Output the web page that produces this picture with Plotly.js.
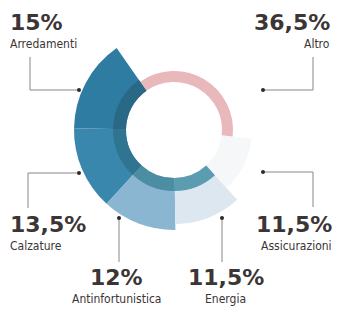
<!DOCTYPE html>
<html>
<head>
<meta charset="utf-8">
<script src="https://cdn.plot.ly/plotly-3.0.1.min.js"></script>
<style>html,body{margin:0;padding:0;background:#fff;}#chart{width:337px;height:309px;}</style>
</head>
<body>
<div id="chart"></div>
<script>
// ---- data ----
var categories = ["Arredamenti", "Calzature", "Antinfortunistica", "Energia", "Assicurazioni", "Altro"];
var shares = [15, 13.5, 12, 11.5, 11.5, 36.5];
var shareLabels = ["15%", "13,5%", "12%", "11,5%", "11,5%", "36,5%"];

// ---- styling ----
var W = 337, H = 309, CX = 174, CY = 130;
var START_CCW = 35; // first slice begins 35 deg counter-clockwise from 12 o'clock
var mainColors  = ["#2f7ca3", "#3987ac", "#8bb6d2", "#dce7ef", "#f5f7f9", "#e8b8bb"];
var innerColors = ["#2a6985", "#2f7490", "#4b8ea4", "#5c9cb1"];
var CLEAR = "rgba(0,0,0,0)";
var HOLE_R = 48;
var total = shares.reduce(function (a, b) { return a + b; }, 0);
var ROT = -(START_CCW + shares[0] / total * 360);

function dom(R) {
  return {x: [(CX - R) / W, (CX + R) / W], y: [(H - CY - R) / H, (H - CY + R) / H]};
}
function ring(R, colorFor) {
  var cols = categories.map(function (c, i) { return colorFor(i); });
  return {
    type: "pie", labels: categories, values: shares, sort: false,
    direction: "counterclockwise", rotation: ROT,
    hole: HOLE_R / R, domain: dom(R), textinfo: "none", hoverinfo: "label+percent",
    marker: {colors: cols, line: {width: 0}}, showlegend: false
  };
}
var traces = [
  ring(100, function (i) { return i <= 2 ? mainColors[i] : CLEAR; }),
  ring(94,  function (i) { return i === 3 ? mainColors[i] : CLEAR; }),
  ring(78,  function (i) { return i === 4 ? mainColors[i] : CLEAR; }),
  ring(59,  function (i) { return i === 5 ? mainColors[i] : CLEAR; }),
  ring(61,  function (i) { return i <= 3 ? innerColors[i] : CLEAR; })
];

// label layout (pixel positions)
var labelPos = [
  {x: 8,   y: 8,   anchor: "left"},
  {x: 8,   y: 210, anchor: "left"},
  {x: 116, y: 263, anchor: "center"},
  {x: 226, y: 263, anchor: "center"},
  {x: 334, y: 210, anchor: "right"},
  {x: 332, y: 8,   anchor: "right"}
];
var leaders = [
  [[30, 57], [30, 90], [79, 90]],
  [[28, 208], [28, 173], [79, 173]],
  [[119, 262], [119, 218]],
  [[222, 262], [222, 218]],
  [[313, 207], [313, 172], [263, 172]],
  [[313, 57], [313, 90], [263, 90]]
];
function px(x) { return x / W; }
function py(y) { return 1 - y / H; }

var annotations = [], shapes = [];
var textCol = "#3b3535";
categories.forEach(function (c, i) {
  var p = labelPos[i];
  annotations.push({
    xref: "paper", yref: "paper", x: px(p.x), y: py(p.y), xanchor: p.anchor, yanchor: "top",
    text: "<b>" + shareLabels[i] + "</b>", showarrow: false,
    font: {family: "DejaVu Sans, sans-serif", size: 22, color: textCol}
  });
  annotations.push({
    xref: "paper", yref: "paper", x: px(p.x), y: py(p.y + 27), xanchor: p.anchor, yanchor: "top",
    text: c, showarrow: false,
    font: {family: "DejaVu Sans Condensed, DejaVu Sans, sans-serif", size: 12, color: textCol}
  });
  var pts = leaders[i];
  for (var k = 0; k < pts.length - 1; k++) {
    shapes.push({type: "line", xref: "paper", yref: "paper",
      x0: px(pts[k][0]), y0: py(pts[k][1]), x1: px(pts[k + 1][0]), y1: py(pts[k + 1][1]),
      line: {color: "#8a8585", width: 1}});
  }
  var e = pts[pts.length - 1];
  shapes.push({type: "circle", xref: "paper", yref: "paper",
    x0: px(e[0] - 2), x1: px(e[0] + 2), y0: py(e[1] + 2), y1: py(e[1] - 2),
    fillcolor: "#2e2a2a", line: {width: 0}});
});

var layout = {
  width: W, height: H, margin: {l: 0, r: 0, t: 0, b: 0},
  paper_bgcolor: "#ffffff", plot_bgcolor: "#ffffff",
  showlegend: false, annotations: annotations, shapes: shapes
};
Plotly.newPlot("chart", traces, layout, {displayModeBar: false, staticPlot: true});
</script>
</body>
</html>
